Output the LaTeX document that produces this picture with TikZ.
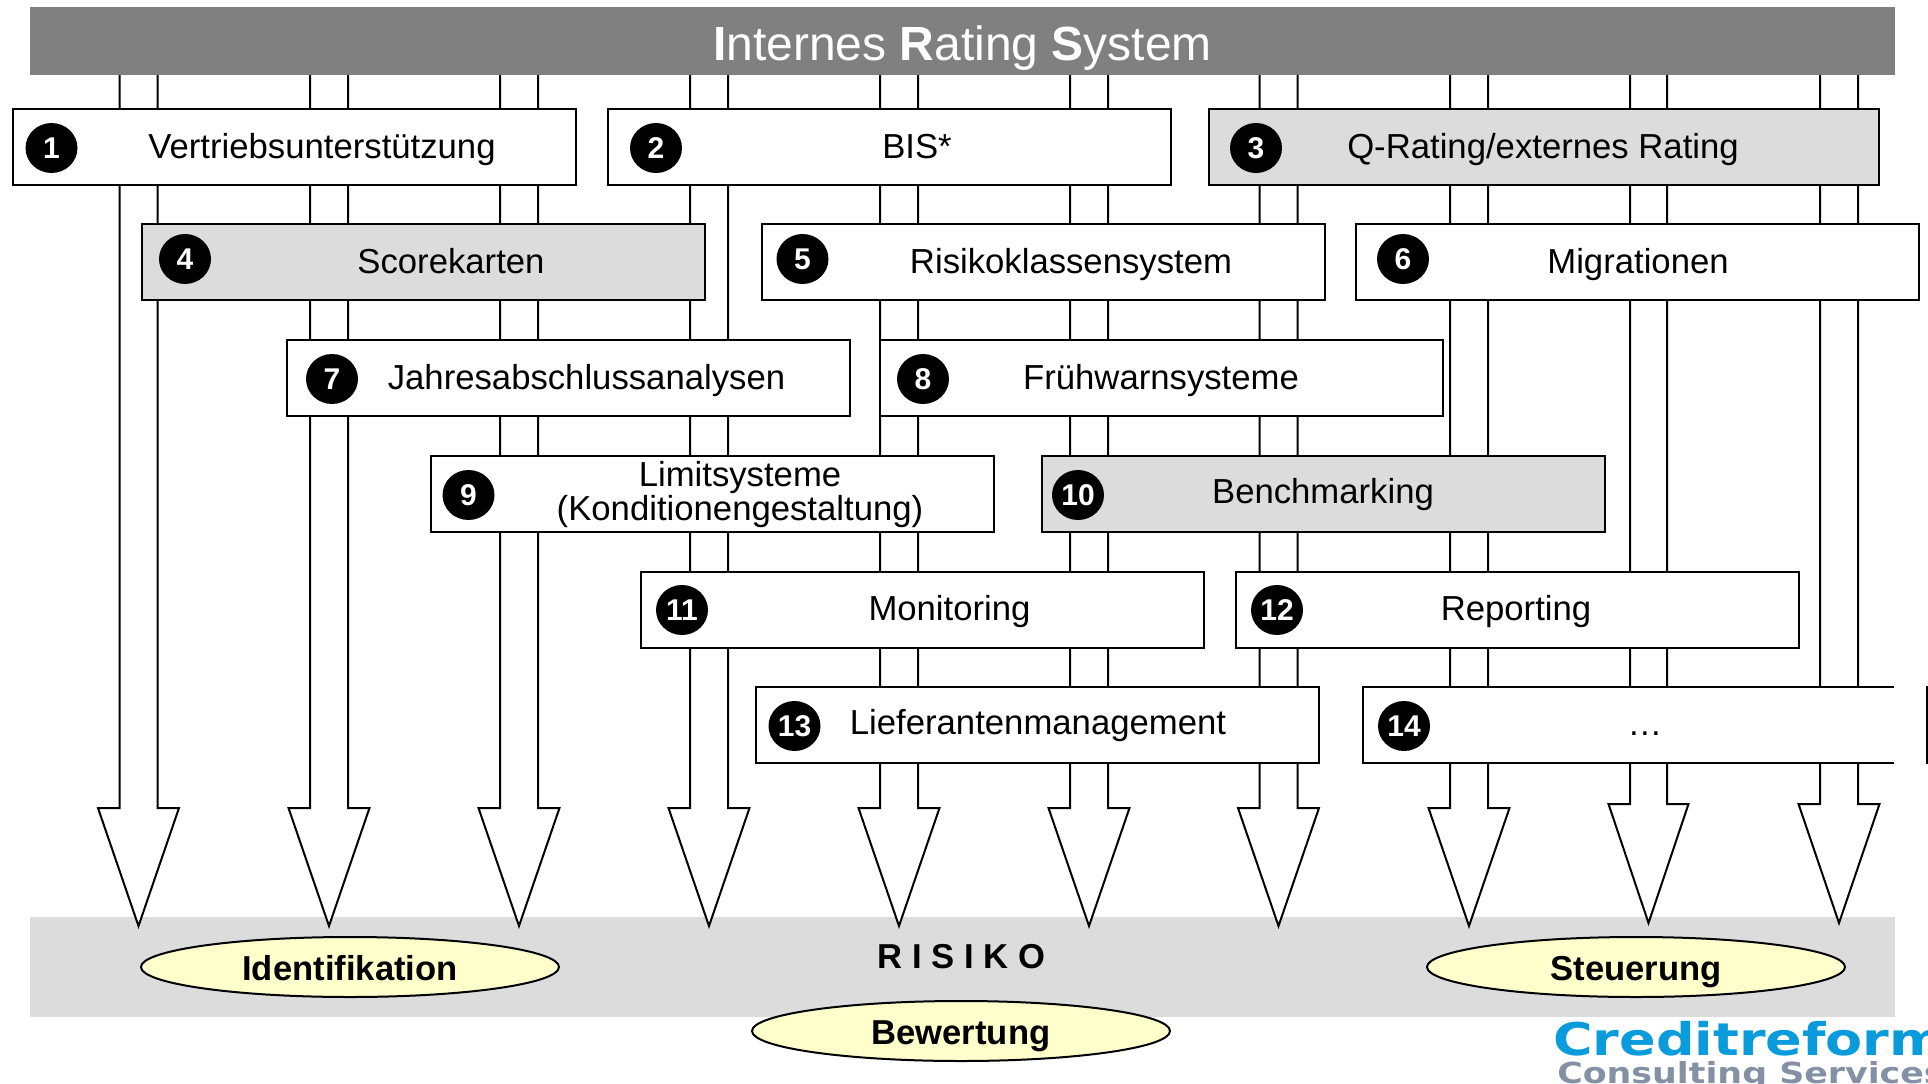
\documentclass[tikz,border=0pt]{standalone}
\usepackage{fontspec}
\setmainfont{Liberation Sans}
\newfontfamily\logofont[BoldFeatures={FakeBold=1.5}]{DejaVu Sans Bold}
\usetikzlibrary{shapes.geometric}
\definecolor{balken}{HTML}{808080}
\definecolor{feld}{HTML}{DCDCDC}
\definecolor{oval}{HTML}{FFFFCC}
\definecolor{logoblau}{HTML}{0A9BDC}
\definecolor{logograu}{HTML}{8490A4}
\tikzset{
    stufe/.style={draw=black,line width=2pt,fill=white,inner sep=0pt,minimum width=563pt,minimum height=76pt},
    stufegrau/.style={stufe,fill=feld},
    badge/.style={ellipse,fill=black,text=white,inner sep=0pt,minimum width=52pt,minimum height=50pt,yshift=-1pt,font=\fontsize{30}{30}\selectfont\bfseries},
    stufetext/.style={anchor=base,inner sep=0pt,font=\fontsize{34.7}{34}\selectfont},
    ziel/.style={ellipse,draw=black,line width=2pt,fill=oval,inner sep=0pt,minimum width=418pt,minimum height=60pt,text height=30pt,text depth=4pt,font=\fontsize{34.6}{34}\selectfont\bfseries},
    pfeil/.style={draw=black,line width=2pt,fill=white,line join=miter}
}
\begin{document}
\begin{tikzpicture}[x=1pt,y=-1pt]
    \useasboundingbox (0,0) rectangle (1928,1084);
    \node[fill=balken,minimum width=1865pt,minimum height=68pt,inner sep=0pt] (titel) at (962.5,41) {};
    \node[anchor=base,text=white,inner sep=0pt,font=\fontsize{48}{48}\selectfont] (titeltext) at (962.5,60)
        {\textbf{I}nternes \textbf{R}ating \textbf{S}ystem};
    \node[fill=feld,minimum width=1865pt,minimum height=100pt,inner sep=0pt] (risiko) at (962.5,967) {};
    % the block arrows, behind the boxes
    \foreach \xl/\xr/\yk/\ys in {119.5/157.5/808/926,310/348/808/926,500/538/808/926,690/728/808/926,
        880/918/808/926,1070/1108/808/926,1259.5/1297.5/808/926,1450/1488/808/926,1630/1667/804/923,1820/1858/804/923}
    {
        \draw[pfeil] (\xl,0 |- titel.south)
            -- (\xl,\yk) -- ({\xl-21.5},\yk)
            -- ({(\xl+\xr)/2},\ys)
            -- ({\xr+21.5},\yk) -- (\xr,\yk)
            -- (\xr,0 |- titel.south);
    }
    % first row
    \node[stufe] (b1) at (294.5,147) {};
    \node[badge] (n1) at (51.5,147) {1};
    \node[stufetext] (t1) at (322,158) {Vertriebsunterstützung};
    \node[stufe] (b2) at (889.5,147) {};
    \node[badge] (n2) at (656,147) {2};
    \node[stufetext] (t2) at (917,158) {BIS*};
    \node[stufegrau,minimum width=670pt] (b3) at (1544,147) {};
    \node[badge] (n3) at (1256,147) {3};
    \node[stufetext] (t3) at (1543,158) {Q-Rating/externes Rating};
    % second row
    \node[stufegrau] (b4) at (423.5,262) {};
    \node[badge] (n4) at (185,258) {4};
    \node[stufetext] (t4) at (451,273) {Scorekarten};
    \node[stufe] (b5) at (1043.5,262) {};
    \node[badge] (n5) at (802.5,258) {5};
    \node[stufetext] (t5) at (1071,273) {Risikoklassensystem};
    \node[stufe] (b6) at (1637.5,262) {};
    \node[badge] (n6) at (1403,258) {6};
    \node[stufetext] (t6) at (1638,273) {Migrationen};
    % third row
    \node[stufe] (b7) at (568,378) {};
    \node[badge] (n7) at (332,378) {7};
    \node[stufetext] (t7) at (586.5,389) {Jahresabschlussanalysen};
    \node[stufe] (b8) at (1161,378) {};
    \node[badge] (n8) at (923,378) {8};
    \node[stufetext] (t8) at (1161,389) {Frühwarnsysteme};
    % fourth row
    \node[stufe] (b9) at (712.5,494) {};
    \node[badge] (n9) at (468.5,494) {9};
    \node[stufetext,anchor=center,align=center] (t9) at (740,495) {Limitsysteme\\(Konditionengestaltung)};
    \node[stufegrau] (b10) at (1323.5,494) {};
    \node[badge] (n10) at (1078,494) {10};
    \node[stufetext] (t10) at (1323,503.5) {Benchmarking};
    % fifth row
    \node[stufe] (b11) at (922,609.5) {};
    \node[badge] (n11) at (682,609) {11};
    \node[stufetext] (t11) at (949.5,620) {Monitoring};
    \node[stufe] (b12) at (1517.5,609.5) {};
    \node[badge] (n12) at (1277,609) {12};
    \node[stufetext] (t12) at (1516,620) {Reporting};
    % sixth row
    \node[stufe] (b13) at (1037.5,725) {};
    \node[badge] (n13) at (794.5,725) {13};
    \node[stufetext] (t13) at (1038,734.5) {Lieferantenmanagement};
    \node[stufe,minimum width=564pt] (b14) at (1645,725) {};
    \node[badge] (n14) at (1404,725) {14};
    \node[stufetext] (t14) at (1645,735) {…};
    \fill[white] (1894,680) rectangle (1926,770);
    % bottom band
    \node[anchor=base,inner sep=0pt,font=\fontsize{34.6}{34}\selectfont\bfseries] (risikotext) at (961.5,968) {R I S I K O};
    \node[ziel] (identifikation) at (350,967) {Identifikation};
    \node[ziel] (steuerung) at (1636,967) {Steuerung};
    \node[ziel] (bewertung) at (961,1031) {Bewertung};
    % logo, cut off by the page
    \node[anchor=base west,inner sep=0pt,text=logoblau,xscale=1.2,font=\logofont\fontsize{45}{45}\selectfont\bfseries] (logoa) at (1553,1055) {Creditreform};
    \node[anchor=base west,inner sep=0pt,text=logograu,xscale=1.2,font=\logofont\fontsize{29}{29}\selectfont\bfseries] (logob) at (1557,1083) {Consulting Services};
\end{tikzpicture}
\end{document}
